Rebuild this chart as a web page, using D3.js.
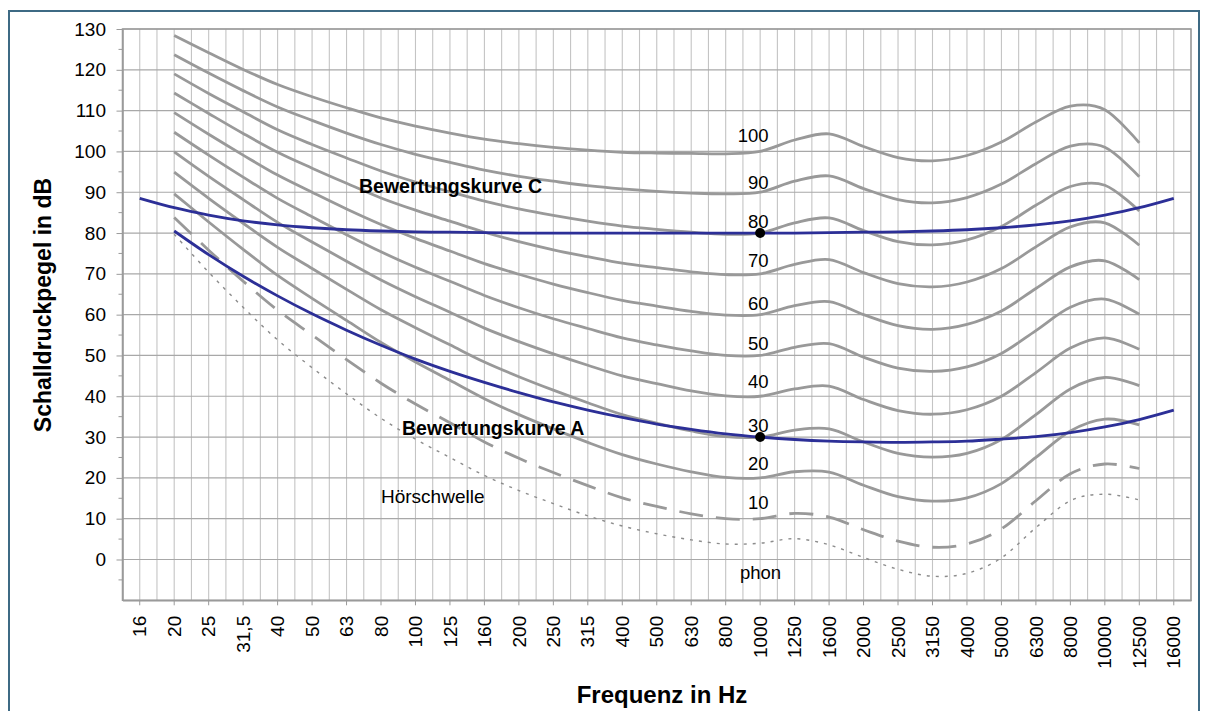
<!DOCTYPE html>
<html>
<head>
<meta charset="utf-8">
<script src="https://cdn.jsdelivr.net/npm/d3@7"></script>
<style>
  html, body { margin: 0; padding: 0; background: #ffffff; }
  svg { display: block; font-family: "Liberation Sans", Arial, Helvetica, sans-serif; }
</style>
</head>
<body>
<svg id="chart" width="1208" height="711"></svg>
<script>
// Third-octave band centre frequencies (category axis)
const frequencies = ["16", "20", "25", "31,5", "40", "50", "63", "80", "100", "125", "160",
  "200", "250", "315", "400", "500", "630", "800", "1000", "1250", "1600", "2000", "2500",
  "3150", "4000", "5000", "6300", "8000", "10000", "12500", "16000"];

// Equal-loudness contours are given from 20 Hz to 12.5 kHz
const contourFrequencies = ["20", "25", "31,5", "40", "50", "63", "80", "100", "125", "160",
  "200", "250", "315", "400", "500", "630", "800", "1000", "1250", "1600", "2000", "2500",
  "3150", "4000", "5000", "6300", "8000", "10000", "12500"];

// Sound pressure level in dB for each loudness level (phon)
const phon10  = [83.8, 75.8, 68.2, 61.1, 55.0, 49.0, 43.2, 38.1, 33.5, 28.8, 24.8, 21.3, 18.1, 15.1, 13.0, 11.2, 10.0, 10.0, 11.3, 10.4, 7.3, 4.5, 3.0, 3.8, 7.5, 14.4, 21.0, 23.4, 22.3];
const phon20  = [89.6, 82.7, 76.0, 69.6, 64.0, 58.6, 53.2, 48.4, 43.9, 39.4, 35.5, 32.0, 28.7, 25.7, 23.4, 21.5, 20.1, 20.0, 21.5, 21.4, 18.2, 15.4, 14.3, 15.1, 18.6, 25.0, 31.5, 34.4, 33.0];
const phon30  = [94.9, 88.5, 82.4, 76.5, 71.3, 66.2, 61.2, 56.8, 52.6, 48.4, 44.8, 41.5, 38.4, 35.5, 33.4, 31.5, 30.1, 30.0, 31.7, 32.0, 28.8, 26.0, 25.1, 26.0, 29.4, 35.5, 41.8, 44.6, 42.6];
const phon40  = [99.9, 93.9, 88.2, 82.6, 77.8, 73.1, 68.5, 64.4, 60.6, 56.7, 53.4, 50.4, 47.6, 45.0, 43.1, 41.3, 40.1, 40.0, 41.8, 42.5, 39.2, 36.5, 35.6, 36.7, 40.0, 45.8, 51.8, 54.3, 51.5];
const phon50  = [104.7, 99.1, 93.7, 88.5, 84.0, 79.6, 75.4, 71.6, 68.2, 64.7, 61.7, 59.0, 56.6, 54.3, 52.6, 51.1, 50.0, 50.0, 52.0, 52.9, 49.6, 46.9, 46.1, 47.2, 50.5, 56.1, 61.8, 63.8, 60.1];
const phon60  = [109.5, 104.2, 99.1, 94.2, 90.0, 85.9, 82.1, 78.7, 75.6, 72.5, 69.9, 67.5, 65.4, 63.5, 62.1, 60.8, 59.9, 60.0, 62.2, 63.2, 60.0, 57.3, 56.4, 57.6, 60.9, 66.4, 71.7, 73.2, 68.6];
const phon70  = [114.3, 109.3, 104.4, 99.8, 95.9, 92.2, 88.6, 85.6, 82.9, 80.2, 77.9, 75.9, 74.2, 72.6, 71.5, 70.5, 69.8, 70.0, 72.3, 73.5, 70.3, 67.6, 66.8, 68.0, 71.3, 76.6, 81.5, 82.5, 77.0];
const phon80  = [119.0, 114.2, 109.7, 105.3, 101.7, 98.4, 95.2, 92.5, 90.1, 87.8, 85.9, 84.3, 82.9, 81.7, 80.9, 80.2, 79.7, 80.0, 82.5, 83.7, 80.6, 77.9, 77.1, 78.3, 81.6, 86.8, 91.4, 91.7, 85.4];
const phon90  = [123.7, 119.2, 114.9, 110.9, 107.6, 104.5, 101.7, 99.3, 97.3, 95.4, 93.9, 92.7, 91.6, 90.8, 90.2, 89.8, 89.6, 90.0, 92.7, 94.0, 90.9, 88.2, 87.4, 88.7, 92.0, 97.0, 101.3, 101.0, 93.8];
const phon100 = [128.4, 124.2, 120.1, 116.4, 113.4, 110.7, 108.2, 106.2, 104.5, 103.0, 101.9, 101.0, 100.3, 99.8, 99.6, 99.5, 99.4, 100.0, 102.8, 104.3, 101.2, 98.5, 97.7, 99.0, 102.3, 107.2, 111.1, 110.2, 102.1];

// Threshold of hearing (Hörschwelle), 20 Hz .. 12.5 kHz
const thresholdOfHearing = [79.7, 70.4, 61.8, 53.8, 47.0, 40.6, 34.6, 29.5, 25.0, 20.6, 16.9, 13.7, 10.7, 8.2, 6.3, 4.8, 3.8, 4.0, 5.1, 3.6, 0.5, -2.4, -4.1, -3.4, 0.4, 7.8, 14.4, 16.0, 14.6];

// A-weighting curve (inverted, 30 dB at 1 kHz), 20 Hz .. 16 kHz
const weightingAFrequencies = frequencies.slice(1);
const weightingA = [80.5, 74.7, 69.4, 64.6, 60.2, 56.2, 52.5, 49.1, 46.1, 43.4, 40.9, 38.6, 36.6, 34.8, 33.2, 31.9, 30.8, 30.0, 29.4, 29.0, 28.8, 28.7, 28.8, 29.0, 29.5, 30.1, 31.1, 32.5, 34.3, 36.6];

// C-weighting curve (inverted, 80 dB at 1 kHz), 16 Hz .. 16 kHz
const weightingC = [88.5, 86.2, 84.4, 83.0, 82.0, 81.3, 80.8, 80.5, 80.3, 80.2, 80.1, 80.0, 80.0, 80.0, 80.0, 80.0, 80.0, 80.0, 80.0, 80.0, 80.1, 80.2, 80.3, 80.5, 80.8, 81.3, 82.0, 83.0, 84.4, 86.2, 88.5];

// Reference points at 1 kHz on both weighting curves
const referencePoints = [{ f: "1000", db: 80 }, { f: "1000", db: 30 }];

const phonLevels = [10, 20, 30, 40, 50, 60, 70, 80, 90, 100];
const yTickValues = [0, 10, 20, 30, 40, 50, 60, 70, 80, 90, 100, 110, 120, 130];

// ---------------------------------------------------------------------------
const contours = [
  { level: 20, values: phon20 }, { level: 30, values: phon30 }, { level: 40, values: phon40 },
  { level: 50, values: phon50 }, { level: 60, values: phon60 }, { level: 70, values: phon70 },
  { level: 80, values: phon80 }, { level: 90, values: phon90 }, { level: 100, values: phon100 }
];

// Vertical lift (px) of each phon label above its contour at 1 kHz
const phonLabelLift = { 10: 10, 20: 7.5, 30: 5, 40: 8.5, 50: 5.5, 60: 5, 70: 6.5, 80: 5, 90: 3.5, 100: 9.5 };

const svg = d3.select("#chart");
const plot = { left: 122.5, right: 1191, top: 29, bottom: 600.3 };

const x = d3.scaleBand().domain(frequencies).range([plot.left, plot.right]).padding(0);
const cx = f => x(f) + x.bandwidth() / 2;
const y = d3.scaleLinear().domain([-10, 130]).range([plot.bottom, plot.top]);

// Outer frame
svg.append("rect")
  .attr("x", 9).attr("y", 11).attr("width", 1190).attr("height", 740)
  .attr("fill", "#ffffff").attr("stroke", "#3e6a84").attr("stroke-width", 2);

// Vertical grid: at every band edge and every band centre
const grid = svg.append("g");
const vLines = [];
frequencies.forEach(f => { vLines.push(x(f)); vLines.push(cx(f)); });
vLines.push(plot.right);
grid.selectAll("line.v").data(vLines).join("line")
  .attr("class", "v")
  .attr("x1", d => d).attr("x2", d => d)
  .attr("y1", plot.top).attr("y2", plot.bottom)
  .attr("stroke", "#c4c4c4").attr("stroke-width", 1.1);

// Horizontal grid every 10 dB
grid.selectAll("line.h").data(d3.range(-10, 131, 10)).join("line")
  .attr("class", "h")
  .attr("x1", plot.left).attr("x2", plot.right)
  .attr("y1", d => y(d)).attr("y2", d => y(d))
  .attr("stroke", "#a8a8a8").attr("stroke-width", 1.2);

// Plot-area border
svg.append("rect")
  .attr("x", plot.left).attr("y", plot.top)
  .attr("width", plot.right - plot.left).attr("height", plot.bottom - plot.top)
  .attr("fill", "none").attr("stroke", "#9a9a9a").attr("stroke-width", 1.5);

// Y axis
const yAxis = svg.append("g")
  .attr("transform", `translate(${plot.left},0)`)
  .call(d3.axisLeft(y).tickValues(yTickValues).tickSize(6).tickSizeOuter(0).tickPadding(10.5));
yAxis.select(".domain").attr("stroke", "#9a9a9a").attr("stroke-width", 1.5);
yAxis.selectAll(".tick line").attr("stroke", "#9a9a9a");
yAxis.selectAll(".tick text").attr("font-size", 19).attr("fill", "#000").attr("font-family", null);

// Minor y ticks every 5 dB
svg.append("g").selectAll("line").data(d3.range(-5, 130, 10)).join("line")
  .attr("x1", plot.left - 4).attr("x2", plot.left)
  .attr("y1", d => y(d)).attr("y2", d => y(d))
  .attr("stroke", "#9a9a9a");

// X axis
const xAxis = svg.append("g")
  .attr("transform", `translate(0,${plot.bottom})`)
  .call(d3.axisBottom(x).tickSize(5).tickSizeOuter(0));
xAxis.select(".domain").attr("stroke", "#9a9a9a").attr("stroke-width", 1.5);
xAxis.selectAll(".tick line").attr("stroke", "#9a9a9a");
xAxis.selectAll(".tick text")
  .attr("font-size", 19).attr("fill", "#000").attr("font-family", null)
  .attr("transform", "rotate(-90)")
  .attr("text-anchor", "end")
  .attr("x", -15.5).attr("y", 0).attr("dy", "0.35em");

// Axis titles
svg.append("text")
  .attr("transform", "translate(51,305) rotate(-90)")
  .attr("text-anchor", "middle")
  .attr("font-size", 23).attr("font-weight", "bold")
  .text("Schalldruckpegel in dB");

svg.append("text")
  .attr("x", 662).attr("y", 703)
  .attr("text-anchor", "middle")
  .attr("font-size", 24).attr("font-weight", "bold")
  .text("Frequenz in Hz");

// Curves
const smooth = d3.curveCatmullRom.alpha(0);
const contourLine = d3.line()
  .x((d, i) => cx(contourFrequencies[i]))
  .y(d => y(d))
  .curve(smooth);

const curves = svg.append("g").attr("fill", "none");

curves.selectAll("path.contour").data(contours).join("path")
  .attr("class", "contour")
  .attr("d", d => contourLine(d.values))
  .attr("stroke", "#999999").attr("stroke-width", 2.8);

// 10 phon contour, long dashes
curves.append("path")
  .attr("d", contourLine(phon10))
  .attr("stroke", "#999999").attr("stroke-width", 2.8)
  .attr("stroke-dasharray", "24,13");

// Threshold of hearing, dotted
curves.append("path")
  .attr("d", contourLine(thresholdOfHearing))
  .attr("stroke", "#8c8c8c").attr("stroke-width", 1.4)
  .attr("stroke-dasharray", "3,6");

// Weighting curves
const lineA = d3.line().x((d, i) => cx(weightingAFrequencies[i])).y(d => y(d)).curve(smooth);
const lineC = d3.line().x((d, i) => cx(frequencies[i])).y(d => y(d)).curve(smooth);

curves.append("path").attr("d", lineC(weightingC))
  .attr("stroke", "#2c2f97").attr("stroke-width", 2.8);
curves.append("path").attr("d", lineA(weightingA))
  .attr("stroke", "#2c2f97").attr("stroke-width", 2.8);

svg.append("g").selectAll("circle").data(referencePoints).join("circle")
  .attr("cx", d => cx(d.f)).attr("cy", d => y(d.db)).attr("r", 5)
  .attr("fill", "#000");

// Curve labels
svg.append("text").attr("x", 359).attr("y", 193)
  .attr("font-size", 19.5).attr("font-weight", "bold").text("Bewertungskurve C");
svg.append("text").attr("x", 402).attr("y", 435)
  .attr("font-size", 19.5).attr("font-weight", "bold").text("Bewertungskurve A");
svg.append("text").attr("x", 381).attr("y", 503)
  .attr("font-size", 19).text("Hörschwelle");

// Phon level labels next to the 1 kHz points
svg.append("g").selectAll("text").data(phonLevels).join("text")
  .attr("x", cx("1000") + 8.5)
  .attr("y", d => y(d) - phonLabelLift[d])
  .attr("text-anchor", "end")
  .attr("font-size", 18.5)
  .text(d => d);

svg.append("text").attr("x", 740).attr("y", 579)
  .attr("font-size", 18.5).text("phon");
</script>
</body>
</html>
